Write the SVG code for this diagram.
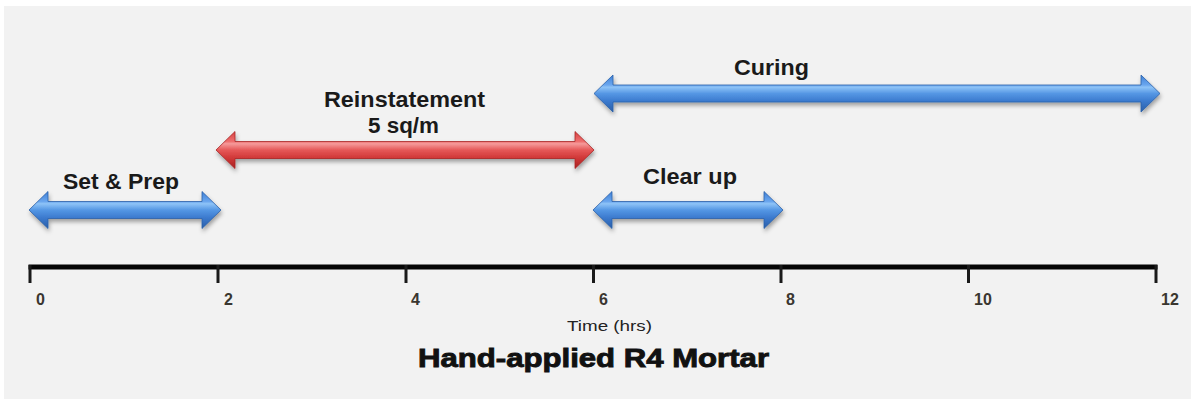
<svg xmlns="http://www.w3.org/2000/svg" width="1191" height="399" viewBox="0 0 1191 399">
  <style>
    .lbl { font-family: "Liberation Sans", Arial, sans-serif; font-weight: bold; font-size: 22px; fill: #1a1a1a; }
    .tick { font-family: "Liberation Sans", Arial, sans-serif; font-weight: bold; font-size: 16px; fill: #3a3630; }
    .axis-title { font-family: "Liberation Sans", Arial, sans-serif; font-size: 15px; fill: #222; }
    .title { font-family: "Liberation Sans", Arial, sans-serif; font-weight: bold; font-size: 26px; fill: #111; stroke: #111; stroke-width: 0.9; }
    .blue { fill: url(#gBlue); stroke: #2a5fa8; stroke-width: 0.8; filter: url(#shadow); }
    .red { fill: url(#gRed); stroke: #a82424; stroke-width: 0.8; filter: url(#shadow); }
    .tk { stroke: #1a1a1a; stroke-width: 3; }
  </style>
  <defs>
    <linearGradient id="gBlue" x1="0" y1="0" x2="0" y2="1">
      <stop offset="0" stop-color="#3f80d6"/>
      <stop offset="0.27" stop-color="#6aa6ee"/>
      <stop offset="0.33" stop-color="#8ec3f7"/>
      <stop offset="0.5" stop-color="#5597e4"/>
      <stop offset="0.7" stop-color="#3c7bcf"/>
      <stop offset="1" stop-color="#2a5ea8"/>
    </linearGradient>
    <linearGradient id="gRed" x1="0" y1="0" x2="0" y2="1">
      <stop offset="0" stop-color="#d84040"/>
      <stop offset="0.27" stop-color="#ee7070"/>
      <stop offset="0.33" stop-color="#f59a9a"/>
      <stop offset="0.5" stop-color="#e55858"/>
      <stop offset="0.7" stop-color="#d23a3a"/>
      <stop offset="1" stop-color="#a82222"/>
    </linearGradient>
    <filter id="shadow" x="-5%" y="-30%" width="110%" height="170%">
      <feDropShadow dx="1" dy="3" stdDeviation="2" flood-color="#000" flood-opacity="0.35"/>
    </filter>
  </defs>

  <rect x="0" y="0" width="1191" height="399" fill="#ffffff"/>
  <rect x="4" y="6" width="1187" height="393" fill="#f2f2f2"/>

  <g id="node-set-prep">
    <path class="blue" d="M29,210 L48,191.5 L48,201.5 L202,201.5 L202,191.5 L221,210 L202,228.5 L202,218.5 L48,218.5 L48,228.5 Z"/>
    <text class="lbl" x="63" y="189" textLength="116" lengthAdjust="spacingAndGlyphs">Set &amp; Prep</text>
  </g>

  <g id="node-reinstatement">
    <path class="red" d="M216,150 L235,131.5 L235,141.5 L575,141.5 L575,131.5 L594,150 L575,168.5 L575,158.5 L235,158.5 L235,168.5 Z"/>
    <text class="lbl" x="324" y="107" textLength="161" lengthAdjust="spacingAndGlyphs">Reinstatement</text>
    <text class="lbl" x="368" y="133" textLength="71" lengthAdjust="spacingAndGlyphs">5 sq/m</text>
  </g>

  <g id="node-curing">
    <path class="blue" d="M594,93.5 L613,75 L613,85 L1141,85 L1141,75 L1160,93.5 L1141,112 L1141,102 L613,102 L613,112 Z"/>
    <text class="lbl" x="734" y="75" textLength="75" lengthAdjust="spacingAndGlyphs">Curing</text>
  </g>

  <g id="node-clear-up">
    <path class="blue" d="M593,210 L612,191.5 L612,201.5 L764,201.5 L764,191.5 L783,210 L764,228.5 L764,218.5 L612,218.5 L612,228.5 Z"/>
    <text class="lbl" x="643" y="184" textLength="94" lengthAdjust="spacingAndGlyphs">Clear up</text>
  </g>

  <g id="axis">
    <line x1="28.5" y1="267" x2="1157.5" y2="267" stroke="#050505" stroke-width="5"/>
    <line class="tk" x1="30" y1="265" x2="30" y2="283"/>
    <line class="tk" x1="218" y1="265" x2="218" y2="283"/>
    <line class="tk" x1="406" y1="265" x2="406" y2="283"/>
    <line class="tk" x1="593.5" y1="265" x2="593.5" y2="283"/>
    <line class="tk" x1="781" y1="265" x2="781" y2="283"/>
    <line class="tk" x1="968.5" y1="265" x2="968.5" y2="283"/>
    <line class="tk" x1="1156" y1="265" x2="1156" y2="283"/>
    <text class="tick" x="36" y="305">0</text>
    <text class="tick" x="224" y="305">2</text>
    <text class="tick" x="411" y="305">4</text>
    <text class="tick" x="599" y="305">6</text>
    <text class="tick" x="786" y="305">8</text>
    <text class="tick" x="974" y="305">10</text>
    <text class="tick" x="1161" y="305">12</text>
    <text class="axis-title" x="567" y="331" textLength="85" lengthAdjust="spacingAndGlyphs">Time (hrs)</text>
  </g>

  <g id="title">
    <text class="title" x="418" y="367" textLength="351" lengthAdjust="spacingAndGlyphs">Hand-applied R4 Mortar</text>
  </g>
</svg>
